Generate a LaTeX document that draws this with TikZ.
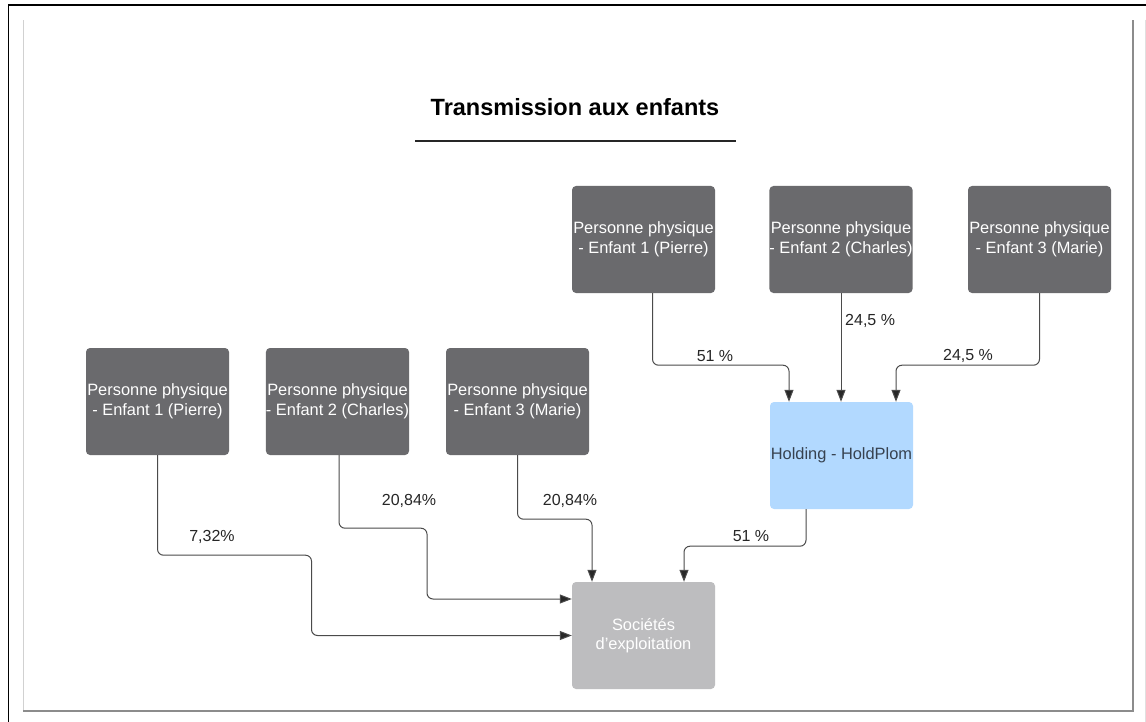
\documentclass[tikz,border=0pt]{standalone}
\usepackage{fontspec}
\setmainfont{Liberation Sans}
\usetikzlibrary{arrows.meta}
\definecolor{darkbox}{RGB}{106,106,109}
\definecolor{holdfill}{RGB}{178,217,255}
\definecolor{holdtext}{RGB}{55,66,80}
\definecolor{socfill}{RGB}{189,189,191}
\definecolor{linecol}{RGB}{75,75,75}
\definecolor{arrowcol}{RGB}{40,40,40}
\tikzset{
  box/.style={rounded corners=4pt, minimum width=143pt, minimum height=107pt, inner sep=0pt, align=center, font=\fontsize{16.4}{19.5}\selectfont},
  personbox/.style={box, fill=darkbox, text=white},
  holdbox/.style={box, fill=holdfill, text=holdtext},
  socbox/.style={box, fill=socfill, text=white},
  conn/.style={draw=linecol, line width=1pt, rounded corners=6pt, -{Triangle[length=12pt,width=9pt,fill=arrowcol]}},
  pct/.style={font=\fontsize{16}{19}\selectfont, text=black!85, inner sep=0pt}
}
\begin{document}
\begin{tikzpicture}[x=1pt,y=-1pt]
\useasboundingbox (0,0) rectangle (1146,722);
\fill[white] (0,0) rectangle (1146,722);
% frames
\draw[black, line width=1.6pt] (8.5,722) -- (8.5,5) -- (1146,5);
\draw[black!18, line width=1pt] (23,711) -- (23,20);
\draw[black!45, line width=1.4pt] (23,711) -- (1133,711) -- (1133,20);
\draw[black!12, line width=1pt] (1145,20) -- (1145,722);
% title
\node[font=\bfseries\fontsize{23.5}{27}\selectfont, inner sep=0pt] (title) at (575,107) {Transmission aux enfants};
\draw[black!85, line width=1.4pt] (415,141) -- (736,141);
% nodes
\node[personbox] (T1) at (643.5,239.5) {Personne physique\\- Enfant 1 (Pierre)};
\node[personbox] (T2) at (841,239.5) {Personne physique\\- Enfant 2 (Charles)};
\node[personbox] (T3) at (1039.5,239.5) {Personne physique\\- Enfant 3 (Marie)};
\node[personbox] (B1) at (157.5,401.5) {Personne physique\\- Enfant 1 (Pierre)};
\node[personbox] (B2) at (337.5,401.5) {Personne physique\\- Enfant 2 (Charles)};
\node[personbox] (B3) at (517.5,401.5) {Personne physique\\- Enfant 3 (Marie)};
\node[holdbox] (H) at (841.5,455.5) {Holding - HoldPlom};
\node[socbox] (S) at (643.5,635.5) {Sociétés\\d'exploitation};
% connectors
\draw[conn] ([xshift=9pt]T1.south) -- ++(0,72) -| ([xshift=-52.5pt]H.north);
\draw[conn] (T2.south) -- (T2.south |- H.north);
\draw[conn] (T3.south) -- ++(0,72) -| ([xshift=54.5pt]H.north);
\draw[conn] ([xshift=-35.5pt]H.south) -- ++(0,37) -| ([xshift=40.5pt]S.north);
\draw[conn] (B3.south) -- ++(0,64) -| ([xshift=-51.5pt]S.north);
\draw[conn] ([xshift=1.5pt]B2.south) -- ++(0,73) -| ++(88,36) |- ([yshift=36.5pt]S.west);
\draw[conn] (B1.south) -- ++(0,100) -| ++(154,40) |- (S.west);
% labels
\node[pct] (l1) at (715,356) {51 \%};
\node[pct, anchor=west] (l2) at (845,321) {24,5 \%};
\node[pct] (l3) at (968,356) {24,5 \%};
\node[pct] (l4) at (751,536) {51 \%};
\node[pct] (l5) at (570,501) {20,84\%};
\node[pct] (l6) at (409,501) {20,84\%};
\node[pct] (l7) at (212,537) {7,32\%};
\end{tikzpicture}
\end{document}
